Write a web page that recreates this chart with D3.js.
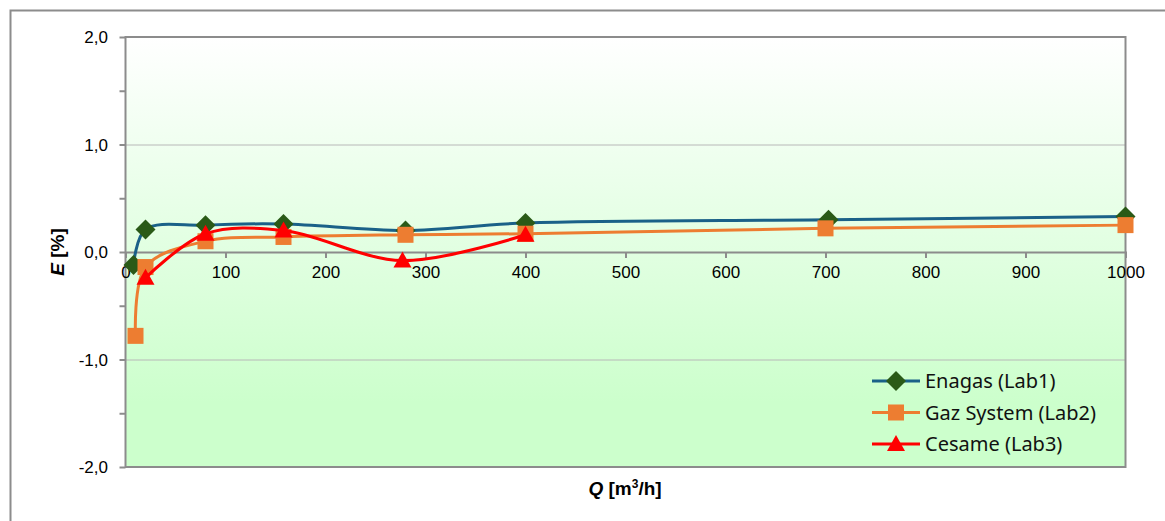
<!DOCTYPE html>
<html><head><meta charset="utf-8">
<script src="https://cdn.jsdelivr.net/npm/d3@7"></script>
<style>body{margin:0;background:#fff}svg{display:block}</style>
</head><body>
<script>
const enagasQ = [8, 20, 80, 158, 280, 400, 703, 1000];
const enagasE = [-0.12, 0.21, 0.25, 0.26, 0.20, 0.27, 0.30, 0.33];
const gazQ = [10, 20, 80, 158, 280, 400, 700, 1000];
const gazE = [-0.78, -0.14, 0.10, 0.14, 0.16, 0.17, 0.22, 0.25];
const cesameQ = [20, 80, 158, 277, 400];
const cesameE = [-0.24, 0.17, 0.20, -0.08, 0.16];
const xTicks = [0,100,200,300,400,500,600,700,800,900,1000];
const yTicks = [-2,-1,0,1,2];
const yMinor = [-2,-1.5,-1,-0.5,0,0.5,1,1.5,2];
const seriesNames = ["Enagas (Lab1)", "Gaz System (Lab2)", "Cesame (Lab3)"];

const FONT = "'Liberation Sans', Arial, Helvetica, sans-serif";
const W = 1165, H = 521;
const svg = d3.select("body").append("svg").attr("width", W).attr("height", H);
const L = 125.5, R = 1125.5, T = 37, B = 467;
const x = d3.scaleLinear().domain([0, 1000]).range([L, R]);
const y = d3.scaleLinear().domain([-2, 2]).range([B, T]);

// outer border
svg.append("rect").attr("x", 10.5).attr("y", 10.5).attr("width", 1170).attr("height", 530)
  .attr("fill", "#fff").attr("stroke", "#8c8c8c").attr("stroke-width", 2);

const defs = svg.append("defs");
const g = defs.append("linearGradient").attr("id", "bg").attr("x1", 0).attr("y1", 0).attr("x2", 0).attr("y2", 1);
g.append("stop").attr("offset", 0).attr("stop-color", "#ffffff");
g.append("stop").attr("offset", 0.85).attr("stop-color", "#ccffcc");
g.append("stop").attr("offset", 1).attr("stop-color", "#ccffcc");

svg.append("rect").attr("x", L).attr("y", T).attr("width", R - L).attr("height", B - T).attr("fill", "url(#bg)");

// gridlines
svg.append("g").selectAll("line").data(yTicks).join("line")
  .attr("x1", L).attr("x2", R).attr("y1", d => y(d) + 0.5).attr("y2", d => y(d) + 0.5)
  .attr("stroke", "#b8b8b8").attr("stroke-width", 1);

// plot border
svg.append("rect").attr("x", L).attr("y", T).attr("width", R - L).attr("height", B - T)
  .attr("fill", "none").attr("stroke", "#8c8c8c").attr("stroke-width", 2);

// y axis
const yAxis = d3.axisLeft(y).tickValues(yMinor).tickSize(6).tickFormat("");
const ya = svg.append("g").attr("transform", `translate(${L},0)`).call(yAxis);
ya.select(".domain").remove();
ya.selectAll(".tick line").attr("stroke", "#8c8c8c").attr("stroke-width", 2);
svg.append("g").selectAll("text").data(yTicks).join("text")
  .attr("x", 108).attr("y", d => y(d) + 6).attr("text-anchor", "end")
  .attr("font-family", FONT).attr("font-size", 17).attr("fill", "#000")
  .text(d => d3.format(".1f")(d).replace(".", ",").replace("−", "-"));

// x axis at y=0
const xAxis = d3.axisBottom(x).tickValues(xTicks).tickSize(6).tickPadding(6)
  .tickFormat(d => d);
const xa = svg.append("g").attr("transform", `translate(0,${y(0)})`).call(xAxis);
xa.select(".domain").attr("stroke", "#8c8c8c").attr("stroke-width", 2);
xa.selectAll(".tick line").attr("stroke", "#8c8c8c").attr("stroke-width", 2);
xa.selectAll(".tick text").attr("font-family", FONT).attr("font-size", 17).attr("fill", "#000").attr("dy", "0.8em");

// axis titles
const yt = svg.append("text").attr("transform", `translate(64,${y(0)}) rotate(-90)`).attr("text-anchor", "middle")
  .attr("font-family", FONT).attr("font-size", 19).attr("font-weight", "bold");
yt.append("tspan").attr("font-style", "italic").text("E");
yt.append("tspan").text(" [%]");
const xt = svg.append("text").attr("x", 625).attr("y", 495).attr("text-anchor", "middle")
  .attr("font-family", FONT).attr("font-size", 19).attr("font-weight", "bold");
xt.append("tspan").attr("font-style", "italic").text("Q");
xt.append("tspan").text(" [m");
xt.append("tspan").attr("font-size", 12).attr("dy", -7).text("3");
xt.append("tspan").attr("dy", 7).text("/h]");

const line = d3.line().x(d => x(d[0])).y(d => y(d[1])).curve(d3.curveCatmullRom.alpha(0.5));

const series = [
  {q: enagasQ, e: enagasE, line: "#1a6188", mark: "#2a5a17", sym: "diamond"},
  {q: gazQ, e: gazE, line: "#ed7d31", mark: "#ed7d31", sym: "square"},
  {q: cesameQ, e: cesameE, line: "#ff0000", mark: "#ff0000", sym: "triangle"}
];

function marker(sel, s) {
  if (s.sym === "diamond") {
    sel.append("path").attr("d", "M0,-10L10,0L0,10L-10,0Z").attr("fill", s.mark);
  } else if (s.sym === "square") {
    sel.append("rect").attr("x", -8).attr("y", -8).attr("width", 16).attr("height", 16).attr("fill", s.mark);
  } else {
    sel.append("path").attr("d", "M0,-9L9,7L-9,7Z").attr("fill", s.mark);
  }
}

series.forEach(s => {
  const pts = s.q.map((q, i) => [q, s.e[i]]);
  svg.append("path").datum(pts).attr("d", line).attr("fill", "none")
    .attr("stroke", s.line).attr("stroke-width", 3);
  const gm = svg.append("g");
  pts.forEach(p => {
    const m = gm.append("g").attr("transform", `translate(${x(p[0])},${y(p[1])})`);
    marker(m, s);
  });
});

// legend
const lg = svg.append("g");
series.forEach((s, i) => {
  const yy = 381 + i * 31.5;
  lg.append("line").attr("x1", 872).attr("x2", 920).attr("y1", yy).attr("y2", yy)
    .attr("stroke", s.line).attr("stroke-width", 3);
  const m = lg.append("g").attr("transform", `translate(896,${yy})`);
  marker(m, s);
  lg.append("text").attr("x", 925).attr("y", yy + 7).attr("font-family", "'Noto Sans', sans-serif")
    .attr("font-size", 20).attr("fill", "#111").text(seriesNames[i]);
});
</script>
</body></html>
